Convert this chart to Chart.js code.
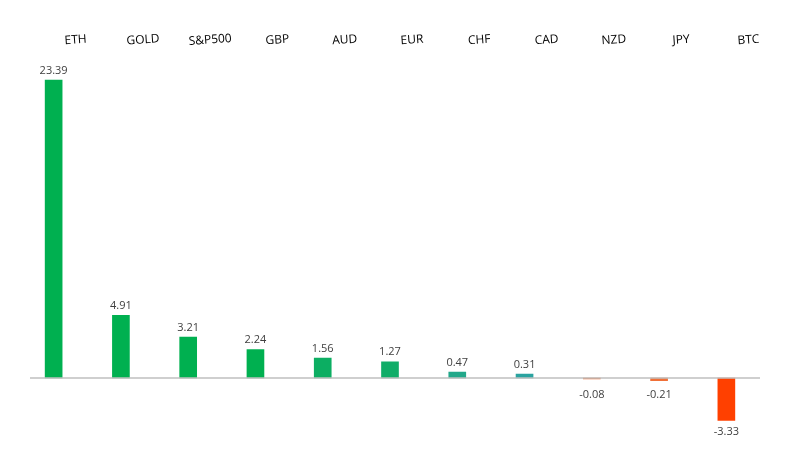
<!DOCTYPE html>
<html>
<head>
<meta charset="utf-8">
<script src="https://cdn.jsdelivr.net/npm/chart.js@4"></script>
<style>
  body { margin: 0; background: #fff; }
  #wrap { width: 806px; height: 468px; }
</style>
</head>
<body>
<div id="wrap"><canvas id="chart"></canvas></div>
<script>
const categories = ["ETH", "GOLD", "S&P500", "GBP", "AUD", "EUR", "CHF", "CAD", "NZD", "JPY", "BTC"];
const changes = [23.39, 4.91, 3.21, 2.24, 1.56, 1.27, 0.47, 0.31, -0.08, -0.21, -3.33];
const barColors = ["#00b050", "#00b050", "#00b050", "#00b050", "#0cae62", "#10ad68", "#22a88a", "#2aa3a0", "#f07038", "#f07038", "#ff4000"];

// labels, zero line
const decorations = {
    id: "decorations",
    afterDatasetsDraw(chart) {
        const ctx = chart.ctx;
        const meta = chart.getDatasetMeta(0);
        const y0 = chart.scales.y.getPixelForValue(0);

        ctx.save();
        ctx.strokeStyle = "#bfbfbf";
        ctx.lineWidth = 1.5;
        ctx.beginPath();
        ctx.moveTo(30, y0);
        ctx.lineTo(760, y0);
        ctx.stroke();

        ctx.fillStyle = "#404040";
        ctx.font = "11px 'Open Sans', sans-serif";
        ctx.textAlign = "center";
        meta.data.forEach((bar, i) => {
            const v = changes[i];
            const txt = v.toFixed(2);
            if (v >= 0) {
                ctx.textBaseline = "bottom";
                ctx.fillText(txt, bar.x, bar.y - 4);
            } else {
                ctx.textBaseline = "top";
                ctx.fillText(txt, bar.x, Math.max(bar.y, y0 + 5) + 6);
            }
        });

        ctx.fillStyle = "#000";
        ctx.font = "12px 'Open Sans', sans-serif";
        ctx.textBaseline = "middle";
        meta.data.forEach((bar, i) => {
            ctx.save();
            ctx.translate(bar.x + 22, 40);
            ctx.rotate(-4 * Math.PI / 180);
            ctx.fillText(categories[i], 0, 0);
            ctx.restore();
        });
        ctx.restore();
    }
};

new Chart(document.getElementById("chart"), {
    type: "bar",
    data: {
        labels: categories,
        datasets: [{
            data: changes,
            backgroundColor: barColors,
            borderColor: barColors.map(c => c + "cc"),
            borderWidth: 0,
            barThickness: 17
        }]
    },
    options: {
        responsive: true,
        maintainAspectRatio: false,
        animation: false,
        layout: { padding: { left: 20, right: 46, top: 59.5, bottom: 26.3 } },
        plugins: { legend: { display: false }, tooltip: { enabled: false } },
        scales: {
            x: { display: false },
            y: { display: false, min: -5, max: 25 }
        }
    },
    plugins: [decorations]
});
</script>
</body>
</html>
